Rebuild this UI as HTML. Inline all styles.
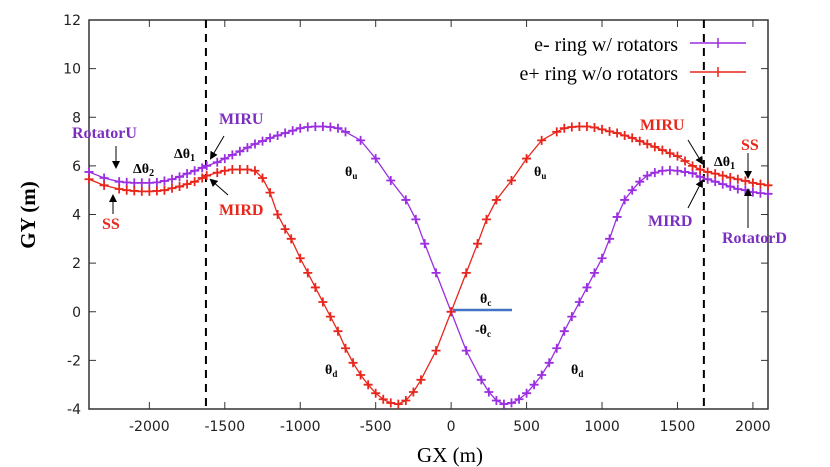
<!DOCTYPE html>
<html><head><meta charset="utf-8"><style>
body{margin:0;background:#fff;width:830px;height:467px;overflow:hidden}
svg{display:block}
.tk{font-family:"DejaVu Sans","Liberation Sans",sans-serif;font-size:14px;fill:#222}
.an{font-family:"Liberation Serif",serif;font-weight:bold;font-size:16px}
.th{font-family:"Liberation Serif",serif;font-weight:bold;font-size:14px;fill:#000}
</style></head><body>
<svg id="chart" width="830" height="467"></svg>
<script>
const xTicks=[-2000,-1500,-1000,-500,0,500,1000,1500,2000];
const yTicks=[-4,-2,0,2,4,6,8,10,12];
const eMinusX=[-2400,-2300,-2200,-2150,-2100,-2050,-2000,-1950,-1900,-1850,-1800,-1750,-1700,-1650,-1620,-1550,-1500,-1450,-1400,-1350,-1300,-1250,-1200,-1150,-1100,-1050,-1000,-950,-900,-850,-800,-750,-700,-600,-500,-400,-300,-234,-175,-100,0,100,200,250,300,350,400,450,500,550,600,650,700,750,800,850,900,950,1000,1050,1100,1150,1200,1250,1300,1350,1400,1450,1500,1550,1600,1650,1700,1750,1800,1850,1900,1950,2000,2050,2100];
const eMinusY=[5.75,5.5,5.35,5.32,5.3,5.3,5.3,5.32,5.38,5.45,5.55,5.68,5.8,5.92,6.0,6.15,6.3,6.45,6.6,6.75,6.9,7.02,7.15,7.25,7.35,7.45,7.55,7.6,7.62,7.62,7.6,7.55,7.4,7.05,6.3,5.4,4.6,3.8,2.8,1.6,0,-1.6,-2.8,-3.3,-3.65,-3.8,-3.75,-3.6,-3.35,-3.0,-2.6,-2.1,-1.5,-0.8,-0.2,0.4,1.0,1.6,2.2,3.0,3.9,4.6,5.0,5.35,5.6,5.72,5.8,5.82,5.8,5.75,5.7,5.55,5.45,5.35,5.25,5.15,5.05,5.0,4.92,4.88,4.85];
const ePlusX=[-2400,-2300,-2200,-2150,-2100,-2050,-2000,-1950,-1900,-1850,-1800,-1750,-1700,-1650,-1620,-1550,-1500,-1450,-1400,-1350,-1300,-1250,-1200,-1150,-1100,-1060,-1000,-950,-900,-850,-800,-750,-700,-650,-600,-550,-500,-450,-400,-350,-300,-250,-200,-100,0,100,175,234,300,400,500,600,700,750,800,850,900,950,1000,1050,1100,1150,1200,1250,1300,1350,1400,1450,1500,1550,1600,1650,1700,1750,1800,1850,1900,1950,2000,2050,2100];
const ePlusY=[5.45,5.2,5.05,5.0,4.97,4.95,4.95,4.97,5.0,5.08,5.15,5.25,5.35,5.5,5.6,5.72,5.8,5.85,5.85,5.85,5.8,5.5,4.9,4.0,3.4,3.0,2.2,1.6,1.0,0.4,-0.2,-0.8,-1.5,-2.1,-2.6,-3.0,-3.35,-3.6,-3.75,-3.8,-3.65,-3.3,-2.8,-1.6,0,1.6,2.8,3.8,4.6,5.4,6.3,7.05,7.4,7.55,7.6,7.62,7.62,7.58,7.5,7.42,7.35,7.25,7.15,7.02,6.9,6.78,6.65,6.52,6.4,6.2,6.0,5.85,5.75,5.68,5.6,5.52,5.45,5.38,5.3,5.25,5.2];
const L=89,R=768,T=20,B=409,XMIN=-2400,XMAX=2100,YMIN=-4,YMAX=12;
const sx=v=>L+(v-XMIN)/(XMAX-XMIN)*(R-L);
const sy=v=>B-(v-YMIN)/(YMAX-YMIN)*(B-T);
const svg=document.getElementById('chart');const NS='http://www.w3.org/2000/svg';
function mk(tag,attrs,parent){const e=document.createElementNS(NS,tag);for(const k in attrs)e.setAttribute(k,attrs[k]);(parent||svg).appendChild(e);return e;}
const frame=mk('rect',{x:L,y:T,width:R-L,height:B-T,fill:'none',stroke:'#333','stroke-width':1.5});


xTicks.forEach(v=>{const x=sx(v);
 const t1=mk('line',{x1:x,x2:x,y1:B,y2:B-7,stroke:'#333'});
 
 
 const t2=mk('line',{x1:x,x2:x,y1:T,y2:T+7,stroke:'#333'});
 
 
 const tx=mk('text',{x:x,y:B+22,'text-anchor':'middle',class:'tk'});tx.textContent=v;
 
 });
yTicks.forEach(v=>{const y=sy(v);
 const t1=mk('line',{x1:L,x2:L+7,y1:y,y2:y,stroke:'#333'});
 
 
 const t2=mk('line',{x1:R,x2:R-7,y1:y,y2:y,stroke:'#333'});
 
 
 const tx=mk('text',{x:L-8,y:y+5,'text-anchor':'end',class:'tk'});tx.textContent=v;
 
 });
[-1625,1675].forEach(v=>{const d=mk('line',{x1:sx(v),x2:sx(v),y1:T,y2:B,stroke:'#000','stroke-width':2,'stroke-dasharray':'8,6'});
 
 });
function series(xs,ys,col,name){
 const p=mk('polyline',{points:xs.map((x,i)=>sx(x)+','+sy(ys[i])).join(' '),fill:'none',stroke:col,'stroke-width':1.3});
 
 
 xs.forEach((x,i)=>{const cx=sx(x),cy=sy(ys[i]);
  const m=mk('path',{d:`M${cx-4.5},${cy}H${cx+4.5}M${cx},${cy-4.5}V${cy+4.5}`,stroke:col,'stroke-width':1.8});
  
  });
}
series(eMinusX,eMinusY,'#9a2ee0','e-minus-ring');
series(ePlusX,ePlusY,'#e8261c','e-plus-ring');
</script>
<svg width="830" height="467" style="position:absolute;left:0;top:0">
<defs><marker id="ah" markerWidth="8" markerHeight="8" refX="6" refY="4" orient="auto"><path d="M0,0L8,4L0,8z" fill="#000"/></marker></defs>
<g>
<text x="678" y="51" text-anchor="end" style="font-family:'Liberation Serif',serif;font-size:20px">e- ring w/ rotators</text>
<line x1="690" y1="43" x2="746" y2="43" stroke="#9a2ee0" stroke-width="1.5"/>
<line x1="718" y1="38" x2="718" y2="48" stroke="#9a2ee0" stroke-width="1.5"/>
<text x="678" y="80" text-anchor="end" style="font-family:'Liberation Serif',serif;font-size:20px">e+ ring w/o rotators</text>
<line x1="690" y1="72" x2="746" y2="72" stroke="#e8261c" stroke-width="1.5"/>
<line x1="718" y1="67" x2="718" y2="77" stroke="#e8261c" stroke-width="1.5"/>
</g>
<text x="35" y="215" transform="rotate(-90 35 215)" text-anchor="middle" style="font-family:'Liberation Serif',serif;font-size:21px;font-weight:bold">GY (m)</text>
<text x="450" y="462" text-anchor="middle" style="font-family:'Liberation Serif',serif;font-size:21px">GX (m)</text>
<text x="72" y="138" class="an" fill="#7b2fbf">RotatorU</text>
<line x1="116" y1="146" x2="116" y2="167" stroke="#000" marker-end="url(#ah)"/>
<text x="133" y="173" class="th">Δθ<tspan font-size="10" dy="3">2</tspan></text>
<text x="174" y="158" class="th">Δθ<tspan font-size="10" dy="3">1</tspan></text>
<text x="219" y="124" class="an" fill="#7b2fbf">MIRU</text>
<line x1="224" y1="136" x2="211" y2="158" stroke="#000" marker-end="url(#ah)"/>
<text x="219" y="215" class="an" fill="#e8261c">MIRD</text>
<line x1="228" y1="195" x2="211" y2="180" stroke="#000" marker-end="url(#ah)"/>
<text x="102" y="229" class="an" fill="#e8261c">SS</text>
<line x1="113" y1="214" x2="113" y2="196" stroke="#000" marker-end="url(#ah)"/>
<text x="640" y="130" class="an" fill="#e8261c">MIRU</text>
<line x1="688" y1="140" x2="702" y2="163" stroke="#000" marker-end="url(#ah)"/>
<text x="714" y="166" class="th">Δθ<tspan font-size="10" dy="3">1</tspan></text>
<text x="741" y="150" class="an" fill="#e8261c">SS</text>
<line x1="748" y1="153" x2="748" y2="177" stroke="#000" marker-end="url(#ah)"/>
<text x="648" y="226" class="an" fill="#7b2fbf">MIRD</text>
<line x1="688" y1="208" x2="702" y2="181" stroke="#000" marker-end="url(#ah)"/>
<text x="722" y="243" class="an" fill="#7b2fbf">RotatorD</text>
<line x1="748" y1="228" x2="748" y2="190" stroke="#000" marker-end="url(#ah)"/>
<text x="345" y="176" class="th">θ<tspan font-size="9" dy="3">u</tspan></text>
<text x="534" y="176" class="th">θ<tspan font-size="9" dy="3">u</tspan></text>
<text x="325" y="374" class="th">θ<tspan font-size="9" dy="3">d</tspan></text>
<text x="571" y="374" class="th">θ<tspan font-size="9" dy="3">d</tspan></text>
<text x="480" y="303" class="th">θ<tspan font-size="9" dy="3">c</tspan></text>
<text x="475" y="334" class="th">-θ<tspan font-size="9" dy="3">c</tspan></text>
<line x1="453" y1="310" x2="512" y2="310" stroke="#4472c4" stroke-width="2.5"/>
</svg>
</body></html>
